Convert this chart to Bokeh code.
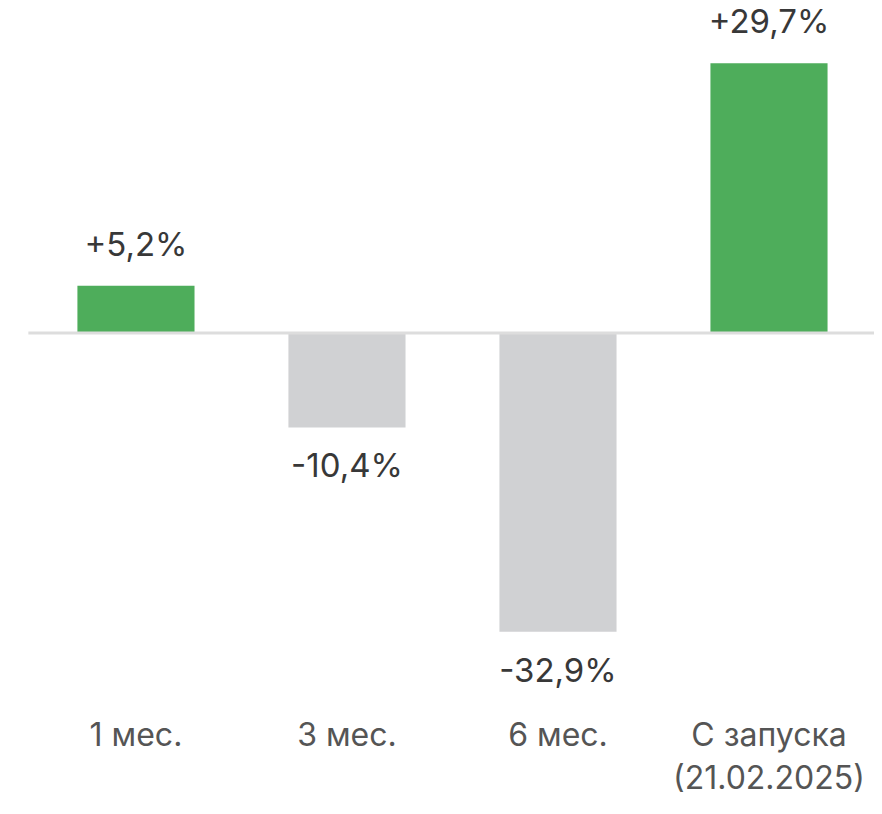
from bokeh.plotting import figure
from bokeh.models import Range1d, ColumnDataSource
from bokeh.core.properties import value
from bokeh.embed import file_html
from bokeh.resources import INLINE

categories = ["1 мес.", "3 мес.", "6 мес.", "С запуска\n(21.02.2025)"]
returns = [5.2, -10.4, -32.9, 29.7]
value_labels = ["+5,2%", "-10,4%", "-32,9%", "+29,7%"]

GREEN = "#4EAD5B"
GRAY = "#D0D1D3"

xs = list(range(len(categories)))
colors = [GREEN if v >= 0 else GRAY for v in returns]
line1 = [c.split("\n")[0] for c in categories]
line2 = [c.split("\n")[1] if "\n" in c else "" for c in categories]

p = figure(width=874, height=806, output_backend="svg", toolbar_location=None,
           x_range=Range1d(-0.642, 3.5), y_range=Range1d(-52.15, 36.62),
           min_border=0)
p.axis.visible = False
p.grid.visible = False
p.outline_line_color = None
p.background_fill_color = "white"

src = ColumnDataSource(dict(x=xs, top=returns, color=colors, lab=value_labels,
                            l1=line1, l2=line2,
                            yoff=[-42 if v >= 0 else 38 for v in returns]))

p.vbar(x="x", top="top", bottom=0, width=0.555, fill_color="color", line_color=None, source=src)
p.segment(x0=-0.51, y0=0, x1=3.5, y1=0, line_color="#DDDDDD", line_width=3)

p.text(x="x", y="top", text="lab", source=src, y_offset="yoff",
       text_align="center", text_baseline="alphabetic",
       text_font=value("Inter"), text_font_size="33px", text_color="#383838")

p.text(x="x", y=0, text="l1", source=src, y_offset=402,
       text_align="center", text_baseline="alphabetic",
       text_font=value("Inter"), text_font_size="32px", text_color="#555555")
p.text(x="x", y=0, text="l2", source=src, y_offset=445,
       text_align="center", text_baseline="alphabetic",
       text_font=value("Inter"), text_font_size="32px", text_color="#555555")

open("out.html", "w").write(file_html(p, INLINE))
